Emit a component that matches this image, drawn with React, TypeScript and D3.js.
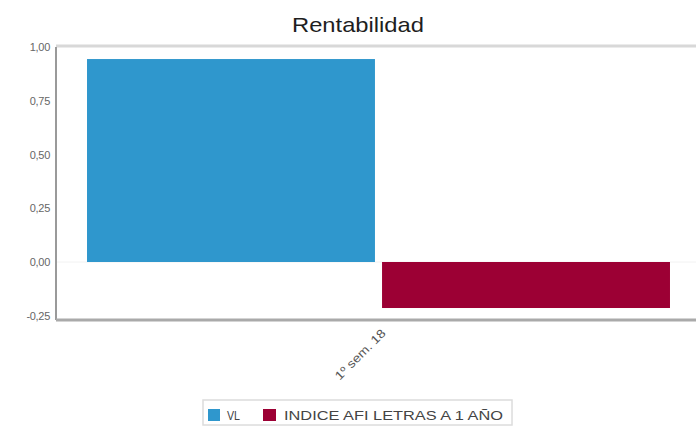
import React from "react";
import * as d3 from "d3";

const categories = ["1º sem. 18"];
const seriesNames = ["VL", "INDICE AFI LETRAS A 1 AÑO"];
const seriesColors = ["#2f97cd", "#9c0034"];
const values = [[0.944], [-0.214]];
const yTicks = [-0.25, 0, 0.25, 0.5, 0.75, 1.0];

export default function App() {
  const W = 696, H = 427;
  const left = 56, right = 701, top = 47, bottom = 320;
  const y = d3.scaleLinear().domain([-0.25, 1]).range([315.75, top]);
  const x0 = d3.scaleBand().domain(categories).range([left, right]).paddingInner(0).paddingOuter(0.0532);
  const x1 = d3.scaleBand().domain(seriesNames).range([0, x0.bandwidth()]).paddingInner(0.024);
  const fmt = (v: number) => v.toFixed(2).replace(".", ",");
  const font = "'Liberation Sans', Arial, sans-serif";
  return (
    <svg width={W} height={H} style={{ position: "absolute", left: 0, top: 0, background: "#fff" }} fontFamily={font}>
      <text x={358} y={32} textAnchor="middle" fontSize={21} fill="#1e1e1e" textLength={132} lengthAdjust="spacingAndGlyphs">Rentabilidad</text>
      <line x1={left} x2={W} y1={top - 1} y2={top - 1} stroke="#d8d8d8" strokeWidth={3} />
      <line x1={left} x2={W} y1={y(0)} y2={y(0)} stroke="#f2f2f2" strokeWidth={1} />
      {yTicks.map((t) => (
        <text key={t} x={50} y={y(t) + 4} textAnchor="end" fontSize={11} fill="#666" letterSpacing={-0.3}>{fmt(t)}</text>
      ))}
      {categories.map((c, ci) =>
        seriesNames.map((s, si) => {
          const v = values[si][ci];
          const bx = (x0(c) ?? 0) + (x1(s) ?? 0);
          return (
            <rect key={s} x={bx} width={x1.bandwidth()} y={y(Math.max(0, v))} height={Math.abs(y(v) - y(0))} fill={seriesColors[si]} />
          );
        })
      )}
      <line x1={left} x2={left} y1={top} y2={bottom} stroke="#9a9a9a" strokeWidth={2} />
      <line x1={left} x2={W} y1={bottom} y2={bottom} stroke="#aaaaaa" strokeWidth={3} />
      {categories.map((c) => {
        const cx = (x0(c) ?? 0) + x0.bandwidth() / 2;
        return (
          <text key={c} transform={`translate(${cx + 8},${bottom + 14}) rotate(-45)`} textAnchor="end" fontSize={12} fill="#555" textLength={66} lengthAdjust="spacingAndGlyphs">{c}</text>
        );
      })}
      <rect x={203} y={400} width={309} height={25} fill="none" stroke="#dcdcdc" strokeWidth={1.5} />
      <rect x={208} y={409} width={12} height={12} fill={seriesColors[0]} />
      <text x={227} y={420} fontSize={13} fill="#444" textLength={13} lengthAdjust="spacingAndGlyphs">{seriesNames[0]}</text>
      <rect x={263} y={409} width={13} height={12} fill={seriesColors[1]} />
      <text x={284} y={420} fontSize={13} fill="#444" textLength={219} lengthAdjust="spacingAndGlyphs">{seriesNames[1]}</text>
    </svg>
  );
}
